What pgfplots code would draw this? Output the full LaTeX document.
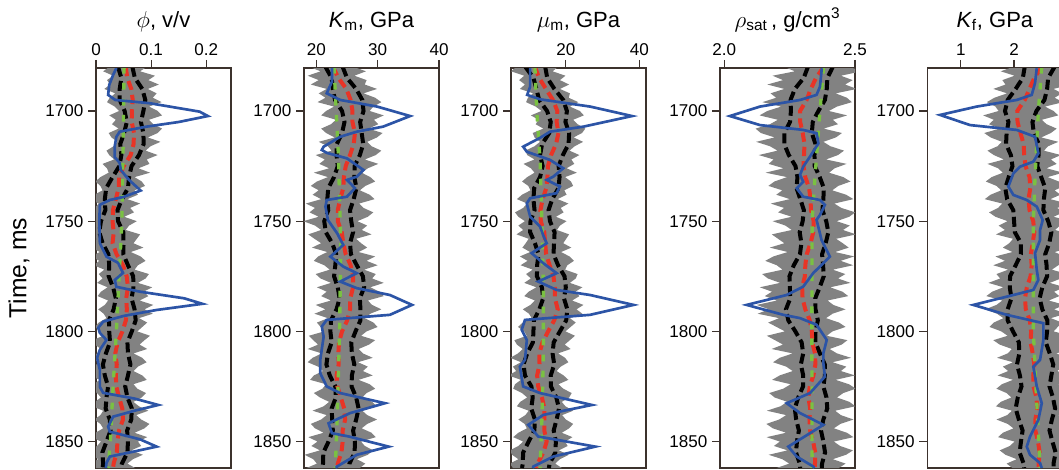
\documentclass[border=0pt]{standalone}
\usepackage{pgfplots}
\pgfplotsset{compat=1.18}
\usepackage{pgfplotstable}
\usepgfplotslibrary{fillbetween}
\usepackage{fontspec}
\setmainfont{Liberation Sans}
\definecolor{bandgray}{RGB}{130,130,130}
\definecolor{trueblue}{RGB}{44,84,166}
\definecolor{meanred}{RGB}{232,52,38}
\definecolor{priorgreen}{RGB}{122,193,66}
\definecolor{framecol}{RGB}{60,50,45}

\pgfplotsset{
  panel/.style={
    scale only axis, width=101.25pt, height=300pt,
    anchor=south west,
    y dir=reverse, ymin=1680.5, ymax=1862,
    ytick={1700,1750,1800,1850},
    xtick pos=right, xticklabel pos=right,
    ytick pos=left,
    tick align=outside,
    major tick length=6pt,
    axis line style={framecol, line width=0.9pt},
    every tick/.style={framecol, line width=0.9pt},
    tick label style={font=\fontsize{12.8}{14}\selectfont},
    /pgf/number format/assume math mode=true,
    /pgf/number format/1000 sep={},
    every axis title shift=0pt,
    title style={font=\fontsize{16.5}{19}\selectfont, at={(0.5,1.1018)}, anchor=base},
  },
  gband/.style={fill=bandgray, draw=none},
  blk/.style={black, line width=3pt, dash pattern=on 7.5pt off 3.4pt},
  redl/.style={meanred, line width=3pt, dash pattern=on 7pt off 3.8pt},
  grn/.style={priorgreen, line width=2.5pt, dash pattern=on 5pt off 7pt},
  blu/.style={trueblue, line width=2pt},
}

% ---------------- envelopes of the realizations (gray band) ----------------
\pgfplotstableread{
t L R
1680 0.024 0.092
1682 0.013 0.080
1684 0.031 0.107
1686 0.020 0.095
1688 0.026 0.114
1690 0.015 0.094
1692 0.035 0.110
1694 0.025 0.103
1696 0.020 0.119
1698 0.034 0.096
1700 0.042 0.112
1702 0.024 0.120
1704 0.036 0.096
1706 0.029 0.104
1708 0.041 0.120
1710 0.023 0.112
1712 0.028 0.094
1714 0.039 0.117
1716 0.032 0.099
1718 0.019 0.090
1720 0.024 0.112
1722 0.033 0.092
1724 0.012 0.097
1726 0.020 0.077
1728 0.023 0.098
1730 0.008 0.070
1732 -0.001 0.083
1734 0.008 0.089
1736 0.012 0.070
1738 -0.003 0.076
1740 -0.012 0.057
1742 0.005 0.080
1744 -0.003 0.062
1746 -0.016 0.069
1748 -0.012 0.051
1750 -0.001 0.074
1752 -0.012 0.060
1754 -0.006 0.054
1756 -0.017 0.080
1758 0.001 0.074
1760 -0.004 0.068
1762 -0.008 0.086
1764 0.007 0.063
1766 -0.009 0.081
1768 0.006 0.090
1770 -0.004 0.076
1772 0.015 0.070
1774 0.005 0.096
1776 0.012 0.090
1778 0.002 0.076
1780 0.021 0.102
1782 0.009 0.086
1784 0.003 0.095
1786 0.022 0.079
1788 0.016 0.104
1790 0.004 0.088
1792 0.014 0.103
1794 0.019 0.078
1796 0.005 0.093
1798 -0.002 0.084
1800 0.008 0.075
1802 0.013 0.098
1804 -0.006 0.088
1806 -0.002 0.079
1808 0.009 0.093
1810 0.002 0.068
1812 -0.010 0.084
1814 0.007 0.092
1816 -0.005 0.076
1818 0.000 0.068
1820 -0.012 0.084
1822 0.007 0.092
1824 -0.005 0.068
1826 -0.010 0.075
1828 0.002 0.091
1830 0.009 0.083
1832 -0.002 0.068
1834 -0.007 0.078
1836 0.013 0.095
1838 0.008 0.073
1840 -0.003 0.082
1842 0.008 0.097
1844 0.013 0.088
1846 -0.001 0.070
1848 -0.008 0.093
1850 0.009 0.076
1852 0.002 0.082
1854 -0.011 0.064
1856 -0.007 0.085
1858 0.004 0.067
1860 -0.009 0.057
1862 -0.004 0.071
}\envA

\pgfplotstableread{
t L R
1680 18.9 26.1
1682 20.7 28.1
1684 18.6 26.2
1686 20.4 28.2
1688 19.1 27.9
1690 21.7 29.9
1692 20.4 27.7
1694 21.5 29.6
1696 20.2 30.6
1698 22.9 29.3
1700 21.6 28.7
1702 20.8 31.0
1704 23.2 29.4
1706 22.4 30.1
1708 20.8 28.5
1710 21.6 30.8
1712 23.0 29.9
1714 20.4 28.3
1716 21.9 29.0
1718 22.5 30.6
1720 19.9 29.7
1722 21.4 27.9
1724 20.5 30.1
1726 22.1 28.4
1728 19.6 27.4
1730 21.9 28.8
1732 20.1 29.6
1734 19.1 28.0
1736 20.4 27.1
1738 19.4 28.7
1740 20.8 29.5
1742 18.3 27.0
1744 19.8 27.7
1746 18.9 29.3
1748 20.4 28.4
1750 17.9 26.7
1752 19.8 28.3
1754 20.8 27.4
1756 18.7 29.0
1758 19.7 26.5
1760 20.8 27.3
1762 19.3 28.3
1764 21.8 26.9
1766 20.3 29.6
1768 19.6 28.2
1770 21.3 30.0
1772 22.2 27.8
1774 19.9 29.7
1776 20.7 29.1
1778 22.4 31.0
1780 20.1 28.8
1782 21.7 30.3
1784 20.8 31.0
1786 22.4 28.4
1788 19.9 29.1
1790 21.5 30.6
1792 19.7 28.8
1794 21.9 27.9
1796 20.1 29.3
1798 20.7 30.0
1800 21.3 28.2
1802 18.8 27.3
1804 19.5 29.6
1806 20.3 28.6
1808 18.6 26.9
1810 20.9 27.6
1812 19.4 29.2
1814 18.6 26.8
1816 20.3 28.4
1818 21.1 27.6
1820 19.6 29.2
1822 19.0 26.9
1824 21.6 28.7
1826 21.0 29.6
1828 19.6 28.2
1830 20.6 27.5
1832 22.1 29.1
1834 21.2 29.9
1836 19.4 27.5
1838 21.7 28.3
1840 20.8 29.9
1842 19.1 28.3
1844 19.8 27.4
1846 21.2 29.0
1848 18.7 29.7
1850 20.2 27.3
1852 19.2 27.9
1854 20.6 29.3
1856 18.1 28.4
1858 19.5 26.6
1860 20.1 28.0
1862 18.4 27.1
}\envB

\pgfplotstableread{
t L R
1680 6.5 17.9
1682 5.1 16.4
1684 8.7 19.9
1686 7.3 18.4
1688 8.9 20.9
1690 7.5 18.4
1692 11.1 21.1
1694 9.7 20.8
1696 9.2 23.4
1698 11.8 21.1
1700 13.4 23.8
1702 10.5 24.9
1704 12.6 22.0
1706 11.8 23.2
1708 13.9 25.3
1710 11.0 24.4
1712 11.5 22.1
1714 13.0 24.7
1716 11.5 22.4
1718 9.0 21.0
1720 9.5 23.7
1722 11.5 21.5
1724 8.5 22.3
1726 10.5 20.2
1728 11.5 23.0
1730 9.5 19.8
1732 8.1 21.4
1734 9.8 22.0
1736 10.4 19.6
1738 8.1 20.2
1740 6.7 17.8
1742 9.5 20.7
1744 8.4 18.6
1746 6.2 19.4
1748 7.1 17.3
1750 8.9 20.2
1752 7.1 18.4
1754 8.4 17.6
1756 6.6 20.9
1758 9.9 20.1
1760 9.1 19.3
1762 8.2 21.5
1764 10.3 18.7
1766 7.5 21.0
1768 9.6 22.2
1770 7.7 20.4
1772 11.0 19.8
1774 9.2 23.2
1776 10.5 22.7
1778 8.7 21.1
1780 12.0 24.5
1782 9.9 22.6
1784 8.7 23.7
1786 11.6 21.7
1788 10.4 24.8
1790 8.3 22.9
1792 10.0 24.5
1794 10.7 21.1
1796 8.3 22.7
1798 7.0 21.3
1800 8.7 19.9
1802 9.4 22.5
1804 6.0 21.1
1806 6.7 19.7
1808 8.3 21.3
1810 7.0 17.9
1812 4.9 19.8
1814 7.8 20.7
1816 5.6 18.6
1818 6.5 17.5
1820 4.4 19.4
1822 7.8 20.7
1824 6.2 18.0
1826 5.7 19.3
1828 8.1 21.6
1830 9.5 20.9
1832 7.6 18.9
1834 6.7 19.9
1836 9.9 22.0
1838 9.0 19.0
1840 7.1 20.0
1842 8.8 22.0
1844 9.4 20.9
1846 7.1 18.9
1848 5.7 21.8
1850 8.4 19.8
1852 7.1 20.5
1854 4.8 18.1
1856 5.4 20.8
1858 7.1 18.4
1860 4.8 17.1
1862 5.6 18.9
}\envC

\pgfplotstableread{
t L R
1680 2.230 2.480
1682 2.270 2.525
1684 2.185 2.446
1686 2.225 2.491
1688 2.165 2.462
1690 2.230 2.507
1692 2.177 2.426
1694 2.199 2.469
1696 2.146 2.488
1698 2.218 2.431
1700 2.165 2.400
1702 2.135 2.470
1704 2.205 2.415
1706 2.175 2.435
1708 2.120 2.380
1710 2.140 2.450
1712 2.193 2.427
1714 2.122 2.379
1716 2.175 2.406
1718 2.204 2.458
1720 2.132 2.435
1722 2.189 2.389
1724 2.170 2.468
1726 2.227 2.422
1728 2.158 2.401
1730 2.240 2.455
1732 2.192 2.483
1734 2.169 2.436
1736 2.222 2.413
1738 2.199 2.466
1740 2.251 2.494
1742 2.178 2.421
1744 2.229 2.448
1746 2.206 2.501
1748 2.258 2.478
1750 2.185 2.430
1752 2.234 2.480
1754 2.258 2.454
1756 2.182 2.504
1758 2.206 2.428
1760 2.230 2.453
1762 2.174 2.476
1764 2.243 2.424
1766 2.188 2.497
1768 2.157 2.445
1770 2.201 2.493
1772 2.223 2.415
1774 2.145 2.463
1776 2.167 2.435
1778 2.214 2.483
1780 2.136 2.405
1782 2.183 2.452
1784 2.155 2.474
1786 2.202 2.395
1788 2.124 2.417
1790 2.171 2.464
1792 2.128 2.414
1794 2.210 2.389
1796 2.168 2.439
1798 2.200 2.464
1800 2.232 2.414
1802 2.163 2.392
1804 2.194 2.471
1806 2.225 2.449
1808 2.181 2.403
1810 2.262 2.431
1812 2.212 2.485
1814 2.187 2.414
1816 2.237 2.467
1818 2.262 2.446
1820 2.212 2.500
1822 2.183 2.426
1824 2.254 2.477
1826 2.226 2.503
1828 2.172 2.455
1830 2.193 2.431
1832 2.241 2.479
1834 2.215 2.501
1836 2.163 2.424
1838 2.237 2.446
1840 2.210 2.494
1842 2.161 2.444
1844 2.186 2.419
1846 2.237 2.469
1848 2.162 2.494
1850 2.213 2.419
1852 2.190 2.443
1854 2.242 2.492
1856 2.170 2.466
1858 2.222 2.415
1860 2.249 2.464
1862 2.200 2.438
}\envD

\pgfplotstableread{
t L R
1680 1.98 3.08
1682 1.75 2.85
1684 2.01 3.12
1686 1.78 2.90
1688 1.84 3.07
1690 1.61 2.74
1692 1.87 2.90
1694 1.63 2.76
1696 1.49 2.92
1698 1.65 2.58
1700 1.71 2.74
1702 1.42 2.83
1704 1.62 2.52
1706 1.53 2.61
1708 1.73 2.80
1710 1.44 2.69
1712 1.56 2.51
1714 1.77 2.83
1716 1.69 2.64
1718 1.50 2.56
1720 1.62 2.88
1722 1.81 2.69
1724 1.50 2.80
1726 1.70 2.61
1728 1.79 2.92
1730 1.58 2.63
1732 1.47 2.84
1734 1.67 2.95
1736 1.76 2.76
1738 1.56 2.87
1740 1.45 2.68
1742 1.78 3.00
1744 1.70 2.81
1746 1.53 2.93
1748 1.65 2.74
1750 1.88 3.06
1752 1.71 2.86
1754 1.83 2.77
1756 1.66 3.07
1758 1.98 2.98
1760 1.91 2.88
1762 1.79 3.07
1764 1.97 2.76
1766 1.65 2.95
1768 1.83 3.04
1770 1.61 2.83
1772 1.89 2.71
1774 1.67 3.00
1776 1.74 2.88
1778 1.52 2.67
1780 1.80 2.95
1782 1.59 2.75
1784 1.48 2.85
1786 1.78 2.65
1788 1.67 2.95
1790 1.46 2.75
1792 1.68 2.97
1794 1.80 2.69
1796 1.62 2.90
1798 1.54 2.82
1800 1.76 2.74
1802 1.88 3.05
1804 1.61 2.96
1806 1.73 2.87
1808 1.96 3.08
1810 1.88 2.79
1812 1.68 3.00
1814 1.98 3.10
1816 1.79 2.91
1818 1.89 2.81
1820 1.69 3.02
1822 1.98 3.13
1824 1.77 2.83
1826 1.67 2.94
1828 1.86 3.14
1830 1.95 3.05
1832 1.75 2.85
1834 1.66 2.94
1836 1.96 3.14
1838 1.87 2.83
1840 1.67 2.93
1842 1.88 3.13
1844 1.99 3.03
1846 1.79 2.84
1848 1.70 3.14
1850 2.01 2.94
1852 1.92 3.04
1854 1.73 2.85
1856 1.84 3.15
1858 2.05 2.96
1860 1.86 2.86
1862 1.97 3.06
}\envE

% ---------------- percentile (lo, hi) and mean lines ----------------
\pgfplotstableread{
t lo hi m
1680 0.040 0.066 0.054
1685 0.046 0.0705 0.0568
1690 0.043 0.084 0.064
1695 0.043 0.0895 0.0667
1700 0.052 0.086 0.065
1705 0.056 0.0815 0.0648
1710 0.051 0.086 0.069
1715 0.044 0.0865 0.0682
1720 0.046 0.078 0.063
1725 0.0425 0.0645 0.0503
1730 0.030 0.060 0.042
1735 0.0185 0.058 0.0412
1740 0.016 0.047 0.036
1745 0.017 0.039 0.0308
1750 0.009 0.040 0.030
1755 0.006 0.0495 0.0322
1760 0.012 0.050 0.030
1765 0.0225 0.0495 0.0373
1770 0.024 0.058 0.049
1775 0.023 0.0675 0.0557
1780 0.031 0.068 0.058
1785 0.036 0.0645 0.0548
1790 0.032 0.070 0.056
1795 0.0235 0.072 0.0542
1800 0.024 0.065 0.048
1805 0.0255 0.057 0.0393
1810 0.018 0.058 0.035
1815 0.0125 0.0625 0.0377
1820 0.016 0.058 0.036
1825 0.022 0.053 0.0368
1830 0.019 0.057 0.042
1835 0.0175 0.065 0.0477
1840 0.025 0.064 0.049
1845 0.0265 0.0565 0.0418
1850 0.019 0.058 0.039
1855 0.0115 0.057 0.0377
1860 0.013 0.047 0.032
1862 0.012 0.045 0.031
}\lineA

\pgfplotstableread{
t lo hi m
1680 21.5 24.3 22.7
1685 22.5 25.0 23.6
1690 22.7 26.5 24.9
1695 23.05 27.5 25.6
1700 24.2 27.7 25.9
1705 24.6 27.15 25.9
1710 24.2 27.4 26.3
1715 23.35 27.65 26.1
1720 23.3 27.1 25.5
1725 23.5 26.25 24.8
1730 22.9 26.2 24.5
1735 21.95 26.55 24.4
1740 21.8 26.1 23.9
1745 21.95 25.5 23.5
1750 21.3 25.7 23.5
1755 21.55 26.0 24.15
1760 22.6 25.5 24.4
1765 23.25 25.65 24.8
1770 23.1 26.6 25.6
1775 22.9 27.6 26.0
1780 23.5 27.8 26.0
1785 23.8 27.1 25.55
1790 23.3 27.2 25.5
1795 22.4 27.2 25.05
1800 22.3 26.4 24.2
1805 22.5 25.7 23.7
1810 21.9 25.8 23.6
1815 21.65 26.2 23.65
1820 22.2 25.8 23.3
1825 23.1 25.75 23.45
1830 23.2 26.5 24.0
1835 22.5 26.9 24.55
1840 22.6 26.5 24.7
1845 22.7 26.0 24.3
1850 22.0 26.3 24.3
1855 21.15 26.25 24.1
1860 21.1 25.4 23.5
1862 21.0 25.3 23.4
}\lineB

\pgfplotstableread{
t lo hi m
1680 9.0 14.4 11.6
1685 11.2 14.95 12.75
1690 12.0 16.9 14.6
1695 12.75 19.3 16.5
1700 14.9 20.3 17.7
1705 15.9 19.9 17.5
1710 15.5 20.9 18.0
1715 13.55 20.75 17.35
1720 13.0 19.2 16.0
1725 13.7 18.05 15.15
1730 13.0 18.3 15.0
1735 11.4 18.0 14.7
1740 11.2 16.3 13.7
1745 11.5 15.3 13.1
1750 10.4 15.7 13.2
1755 10.3 16.95 14.15
1760 11.6 16.8 14.4
1765 12.6 16.65 14.65
1770 12.2 17.9 15.6
1775 12.15 19.65 16.65
1780 13.5 20.0 17.0
1785 13.85 19.5 17.05
1790 12.8 20.4 17.8
1795 11.3 20.1 16.85
1800 11.2 18.4 15.2
1805 11.05 16.7 13.65
1810 9.5 16.4 12.8
1815 8.5 16.85 12.85
1820 8.9 15.9 12.2
1825 10.65 15.95 12.5
1830 11.0 17.4 13.5
1835 10.6 18.15 14.2
1840 11.6 17.5 14.2
1845 11.45 16.7 14.15
1850 9.9 17.3 14.8
1855 8.4 17.15 13.9
1860 8.3 15.6 12.3
1862 8.1 15.4 12.0
}\lineC

\pgfplotstableread{
t lo hi m
1680 2.320 2.415 2.380
1685 2.304 2.3945 2.351
1690 2.270 2.392 2.331
1695 2.2535 2.385 2.315
1700 2.255 2.360 2.290
1705 2.2515 2.3385 2.2905
1710 2.230 2.335 2.300
1715 2.2295 2.349 2.307
1720 2.247 2.345 2.305
1725 2.2725 2.346 2.303
1730 2.280 2.365 2.310
1735 2.2765 2.381 2.3245
1740 2.291 2.379 2.330
1745 2.3045 2.3755 2.3315
1750 2.300 2.390 2.342
1755 2.2885 2.398 2.3405
1760 2.295 2.388 2.330
1765 2.2895 2.374 2.3155
1770 2.266 2.378 2.310
1775 2.2495 2.3805 2.3085
1780 2.251 2.365 2.298
1785 2.2525 2.348 2.2995
1790 2.236 2.349 2.310
1795 2.245 2.358 2.327
1800 2.272 2.349 2.335
1805 2.296 2.3485 2.3365
1810 2.302 2.366 2.347
1815 2.293 2.3845 2.3485
1820 2.302 2.385 2.341
1825 2.3015 2.379 2.327
1830 2.283 2.391 2.322
1835 2.270 2.394 2.3285
1840 2.275 2.379 2.326
1845 2.2855 2.370 2.3285
1850 2.278 2.379 2.340
1855 2.2745 2.3855 2.348
1860 2.289 2.374 2.347
1862 2.290 2.373 2.347
}\lineD

\pgfplotstableread{
t lo hi m
1680 2.20 2.76 2.52
1685 2.165 2.64 2.38
1690 2.03 2.62 2.29
1695 1.88 2.57 2.20
1700 1.83 2.42 2.06
1705 1.895 2.345 2.065
1710 1.86 2.37 2.12
1715 1.85 2.465 2.18
1720 1.94 2.46 2.19
1725 1.97 2.435 2.215
1730 1.90 2.51 2.29
1735 1.835 2.585 2.305
1740 1.87 2.56 2.27
1745 1.985 2.55 2.29
1750 2.00 2.64 2.36
1755 2.015 2.70 2.38
1760 2.13 2.66 2.35
1765 2.13 2.585 2.315
1770 2.03 2.61 2.33
1775 1.925 2.62 2.31
1780 1.92 2.53 2.24
1785 1.95 2.48 2.205
1790 1.88 2.53 2.22
1795 1.88 2.625 2.295
1800 1.98 2.62 2.32
1805 2.09 2.595 2.31
1810 2.10 2.67 2.35
1815 2.055 2.735 2.38
1820 2.11 2.70 2.36
1825 2.14 2.665 2.365
1830 2.07 2.73 2.42
1835 2.03 2.77 2.435
1840 2.09 2.71 2.40
1845 2.16 2.665 2.40
1850 2.13 2.72 2.45
1855 2.105 2.78 2.48
1860 2.18 2.74 2.46
1862 2.19 2.74 2.46
}\lineE

% ---------------- true logs (blue) ----------------
\pgfplotstableread{
t v
1680.5 0.037
1683.7 0.031
1688.2 0.024
1692.7 0.022
1695 0.035
1696.5 0.098
1700.3 0.188
1702.3 0.203
1705 0.150
1707.1 0.092
1709.4 0.043
1711.7 0.037
1716 0.034
1720.9 0.034
1723.6 0.043
1726.8 0.045
1731.3 0.060
1736.1 0.081
1739 0.050
1740.4 0.025
1742.6 0.007
1750 0.006
1760 0.007
1766.1 0.019
1768.9 0.040
1773.5 0.049
1776.7 0.034
1779.8 0.037
1782 0.080
1785 0.160
1787.5 0.193
1790.3 0.110
1793 0.050
1795.6 0.013
1798.4 0.004
1800.7 0.007
1803.9 0.019
1808.4 0.007
1812 0.002
1817.5 0.007
1825.2 0.007
1827.9 0.013
1830.5 0.070
1833.4 0.113
1836 0.070
1838.7 0.031
1843.2 0.022
1845.5 0.025
1849 0.080
1852.3 0.110
1855 0.060
1856.8 0.025
1859.7 0.019
1862 0.018
}\blueA

\pgfplotstableread{
t v
1680.6 22.55
1686.7 22.55
1692 21.7
1695 23.9
1698 29.9
1702.3 35.3
1707.1 30.9
1709.4 26.6
1711.7 23.9
1716.2 21.2
1717.7 20.9
1719 21.7
1721.5 25.0
1726.8 27.7
1729.8 26.6
1731.3 25.0
1735 26.3
1738.9 25.0
1740.4 21.7
1743.4 21.5
1749.5 21.9
1755.5 23.4
1760.8 24.4
1766.1 22.3
1770.6 24.4
1773.6 26.6
1777.4 23.9
1780.4 26.6
1783.5 32.0
1788 35.6
1792.5 32.0
1794.8 21.7
1797.8 20.9
1802.4 21.2
1812.9 20.65
1819 20.65
1825 21.7
1828 23.9
1832.6 31.2
1837.1 25.5
1841.7 22.0
1846.2 22.55
1847.7 25.3
1852.3 31.8
1856 26.6
1861.3 23.4
1862 23.2
}\blueB

\pgfplotstableread{
t v
1680.6 10.3
1689 10.3
1692.7 9.5
1694.7 13.0
1698 26.6
1702.3 38.0
1707.1 24.8
1709.4 15.7
1712.2 13.0
1716.2 8.4
1718.5 9.4
1722.2 15.7
1726 19.3
1729.8 16.6
1731.3 14.8
1734.3 18.4
1737.3 17.5
1739.6 10.3
1741.9 9.4
1747.9 10.3
1752.5 13.0
1757 14.0
1760 14.8
1764.5 10.7
1769.1 13.9
1773.6 17.5
1777.4 12.5
1781.2 17.5
1783.5 26.6
1788 38.4
1792.5 26.6
1794.8 8.9
1799.3 8.0
1803.9 9.4
1812.9 8.9
1816 7.5
1825 8.4
1828 13.0
1833.4 27.1
1837.9 13.9
1842.4 9.8
1847.7 12.5
1852.3 28.0
1856.8 16.6
1861.3 11.2
1862 11.0
}\blueC

\pgfplotstableread{
t v
1680.6 2.373
1689 2.366
1692.7 2.353
1695 2.290
1698 2.137
1702.3 2.022
1706.4 2.137
1708.6 2.302
1710.1 2.353
1714.7 2.360
1720.7 2.328
1725.3 2.302
1729 2.290
1732.1 2.302
1735.1 2.277
1738.9 2.302
1740.4 2.366
1742.6 2.385
1747.2 2.366
1749.4 2.353
1758.5 2.372
1766.1 2.404
1773.6 2.340
1779.7 2.302
1783.5 2.239
1788 2.086
1792.5 2.226
1794 2.290
1797 2.353
1803.9 2.392
1809.9 2.379
1814.4 2.379
1820.5 2.385
1828 2.328
1832.6 2.239
1837.1 2.290
1842.4 2.379
1846.2 2.328
1852.3 2.245
1856.8 2.277
1861.3 2.340
1862 2.345
}\blueD

\pgfplotstableread{
t v
1680.6 2.426
1687.3 2.394
1692.7 2.332
1695 2.05
1698 1.30
1701.8 0.612
1706.4 1.174
1708.6 2.05
1711.7 2.394
1719.2 2.456
1723 2.362
1725.3 2.11
1728.3 1.987
1734.3 1.893
1738.1 1.987
1740.4 2.238
1743.4 2.426
1749.5 2.538
1754 2.488
1758.5 2.488
1764.5 2.394
1772.1 2.426
1776.7 2.456
1781.2 2.362
1783.5 1.987
1788 1.236
1792.5 1.863
1796.3 2.55
1803.9 2.55
1812.9 2.488
1816 2.362
1825 2.426
1832.6 2.52
1840.2 2.456
1847.7 2.30
1852.3 2.238
1856 2.30
1859.8 2.488
1862 2.52
}\blueE

\begin{document}
\begin{tikzpicture}
% ---------- panel 1: porosity ----------
\begin{axis}[panel, at={(72pt,0.75pt)},
  xmin=0, xmax=0.245, xtick={0,0.1,0.2},
  title={$\phi$, v/v},
  ylabel={Time, ms},
  ylabel style={font=\fontsize{18.5}{21}\selectfont, at={(axis description cs:-0.570,0.5)}, anchor=center}]
\addplot[draw=none, name path=La] table[x=L,y=t]{\envA};
\addplot[draw=none, name path=Ra] table[x=R,y=t]{\envA};
\addplot[gband] fill between[of=La and Ra];
\addplot[blk] table[x=lo,y=t]{\lineA};
\addplot[blk] table[x=hi,y=t]{\lineA};
\addplot[redl] table[x=m,y=t]{\lineA};
\addplot[grn] coordinates {(0.051,1680) (0.049,1720) (0.047,1750) (0.042,1775) (0.037,1800) (0.031,1825) (0.026,1850) (0.022,1862)};
\addplot[blu] table[x=v,y=t]{\blueA};
\end{axis}
% ---------- panel 2: K_m ----------
\begin{axis}[panel, at={(228pt,0.75pt)},
  xmin=18, xmax=40, xtick={20,30,40},
  title={\textit{K}\textsubscript{m}, GPa}]
\addplot[draw=none, name path=Lb] table[x=L,y=t]{\envB};
\addplot[draw=none, name path=Rb] table[x=R,y=t]{\envB};
\addplot[gband] fill between[of=Lb and Rb];
\addplot[blk] table[x=lo,y=t]{\lineB};
\addplot[blk] table[x=hi,y=t]{\lineB};
\addplot[redl] table[x=m,y=t]{\lineB};
\addplot[grn] coordinates {(22.9,1680) (23.6,1720) (24.0,1760) (23.8,1800) (23.4,1840) (23.1,1862)};
\addplot[blu] table[x=v,y=t]{\blueB};
\end{axis}
% ---------- panel 3: mu_m ----------
\begin{axis}[panel, at={(383.25pt,0.75pt)},
  xmin=5.1, xmax=41.8, xtick={20,40},
  title={$\mu$\textsubscript{m}, GPa}]
\addplot[draw=none, name path=Lc] table[x=L,y=t]{\envC};
\addplot[draw=none, name path=Rc] table[x=R,y=t]{\envC};
\addplot[gband] fill between[of=Lc and Rc];
\addplot[blk] table[x=lo,y=t]{\lineC};
\addplot[blk] table[x=hi,y=t]{\lineC};
\addplot[redl] table[x=m,y=t]{\lineC};
\addplot[grn] coordinates {(11.6,1680) (12.1,1700) (13.0,1722) (13.5,1750) (13.9,1780) (13.9,1810) (13.5,1840) (13.0,1862)};
\addplot[blu] table[x=v,y=t]{\blueC};
\end{axis}
% ---------- panel 4: rho_sat ----------
\begin{axis}[panel, at={(540pt,0.75pt)},
  xmin=1.984, xmax=2.5, xtick={2.0,2.5}, xticklabels={2.0,2.5},
  title={$\rho$\textsubscript{sat}\,, g/cm\textsuperscript{3}}]
\addplot[draw=none, name path=Ld] table[x=L,y=t]{\envD};
\addplot[draw=none, name path=Rd] table[x=R,y=t]{\envD};
\addplot[gband] fill between[of=Ld and Rd];
\addplot[blk] table[x=lo,y=t]{\lineD};
\addplot[blk] table[x=hi,y=t]{\lineD};
\addplot[redl] table[x=m,y=t]{\lineD};
\addplot[grn] coordinates {(2.380,1680) (2.366,1700) (2.347,1730) (2.336,1750) (2.335,1800) (2.336,1862)};
\addplot[blu] table[x=v,y=t]{\blueD};
\end{axis}
% ---------- panel 5: K_f ----------
\begin{axis}[panel, at={(695.5pt,0.75pt)},
  xmin=0.373, xmax=2.906, xtick={1,2},
  title={\textit{K}\textsubscript{f}, GPa}]
\addplot[draw=none, name path=Le] table[x=L,y=t]{\envE};
\addplot[draw=none, name path=Re] table[x=R,y=t]{\envE};
\addplot[gband] fill between[of=Le and Re];
\addplot[blk] table[x=lo,y=t]{\lineE};
\addplot[blk] table[x=hi,y=t]{\lineE};
\addplot[redl] table[x=m,y=t]{\lineE};
\addplot[grn] coordinates {(2.52,1680) (2.456,1700) (2.394,1730) (2.362,1750) (2.362,1800) (2.41,1825) (2.49,1862)};
\addplot[blu] table[x=v,y=t]{\blueE};
\end{axis}
\pgfresetboundingbox
\path (0,0) rectangle (794.25pt,351.75pt);
\end{tikzpicture}
\end{document}
